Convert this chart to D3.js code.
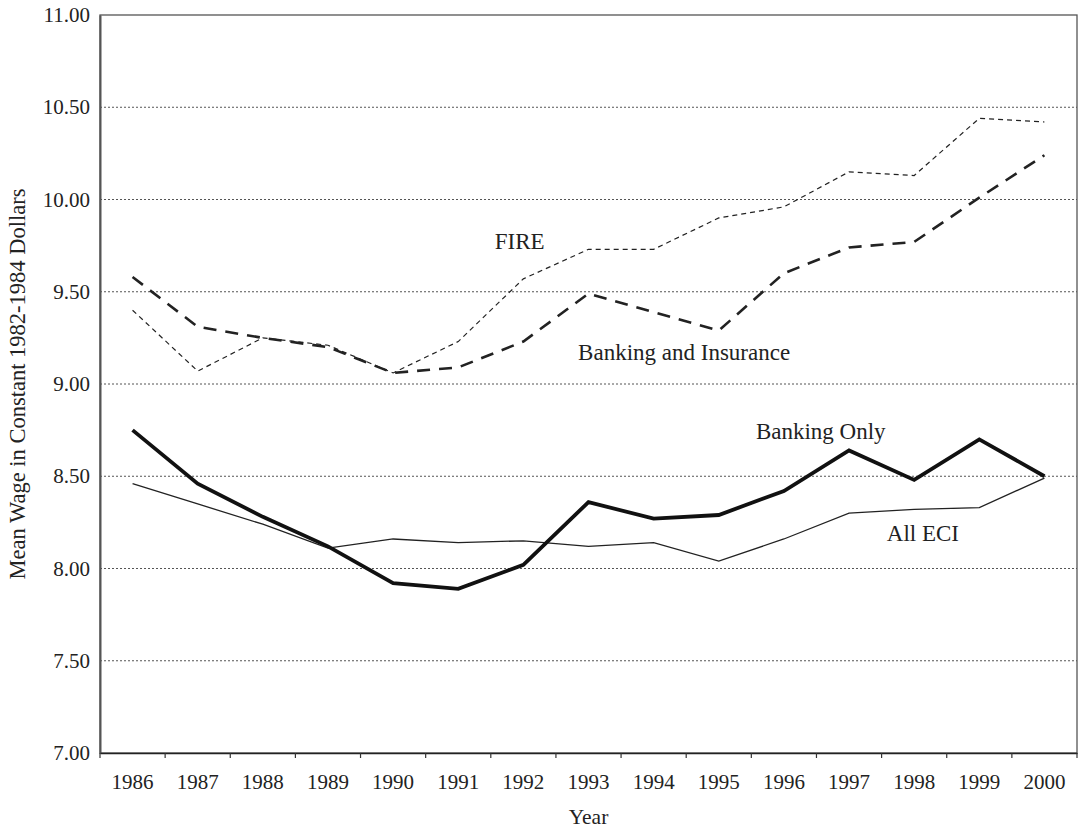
<html>
<head>
<meta charset="utf-8">
<script src="https://cdn.jsdelivr.net/npm/d3@7"></script>
<style>
  body { margin: 0; background: #fff; overflow: hidden; }
  svg { display: block; }
  text { font-family: "Liberation Serif", "Times New Roman", serif; fill: #222; }
</style>
</head>
<body>
<svg width="1081" height="829" id="mainsvg"></svg>
<script>
// data
const years = ['1986','1987','1988','1989','1990','1991','1992','1993','1994','1995','1996','1997','1998','1999','2000'];
const fire = [9.40, 9.07, 9.25, 9.21, 9.06, 9.23, 9.57, 9.73, 9.73, 9.90, 9.96, 10.15, 10.13, 10.44, 10.42];
const bankIns = [9.58, 9.31, 9.25, 9.20, 9.06, 9.09, 9.23, 9.49, 9.39, 9.29, 9.60, 9.74, 9.77, 10.01, 10.24];
const bankOnly = [8.75, 8.46, 8.28, 8.12, 7.92, 7.89, 8.02, 8.36, 8.27, 8.29, 8.42, 8.64, 8.48, 8.70, 8.50];
const allEci = [8.46, 8.35, 8.24, 8.11, 8.16, 8.14, 8.15, 8.12, 8.14, 8.04, 8.16, 8.30, 8.32, 8.33, 8.49];
const yTicks = [7.0, 7.5, 8.0, 8.5, 9.0, 9.5, 10.0, 10.5, 11.0];

const svg = d3.select('#mainsvg');
const margin = {top: 15, right: 4, bottom: 76, left: 100};
const innerWidth = 1081 - margin.left - margin.right;
const innerHeight = 829 - margin.top - margin.bottom;
const g = svg.append('g').attr('transform', `translate(${margin.left}, ${margin.top})`);

const xScale = d3.scaleBand().domain(years).range([0, innerWidth]);
const yScale = d3.scaleLinear().domain([7, 11]).range([innerHeight, 0]);
const cx = d => xScale(d) + xScale.bandwidth() / 2;

// dotted gridlines
g.selectAll('.grid').data(yTicks.filter(v => v > 7 && v < 11)).join('line')
  .attr('x1', 0).attr('x2', innerWidth)
  .attr('y1', d => yScale(d)).attr('y2', d => yScale(d))
  .attr('stroke', '#555').attr('stroke-width', 1).attr('stroke-dasharray', '2,2');

// frame
g.append('rect').attr('width', innerWidth).attr('height', innerHeight)
  .attr('fill', 'none').attr('stroke', '#555').attr('stroke-width', 1.3);

// y axis
const yAxis = g.append('g').call(d3.axisLeft(yScale).tickValues(yTicks).tickFormat(d3.format('.2f')).tickSize(0).tickPadding(10));
yAxis.select('.domain').attr('stroke', '#555').attr('stroke-width', 2);
yAxis.selectAll('text').attr('font-size', 21).style('font-family', '"Liberation Serif", serif').attr('fill', '#222');

// x axis
const xAxis = g.append('g').attr('transform', `translate(0, ${innerHeight})`)
  .call(d3.axisBottom(xScale).tickSize(0).tickPadding(21));
xAxis.select('.domain').attr('stroke', '#222').attr('stroke-width', 1.6);
xAxis.selectAll('text').attr('font-size', 21).style('font-family', '"Liberation Serif", serif').attr('fill', '#222');
g.append('g').selectAll('line').data(d3.range(years.length + 1)).join('line')
  .attr('x1', i => i * xScale.step()).attr('x2', i => i * xScale.step())
  .attr('y1', innerHeight).attr('y2', innerHeight + 5)
  .attr('stroke', '#333').attr('stroke-width', 1.2);

// lines
const line = d3.line().x((d, i) => cx(years[i])).y(d => yScale(d));
const series = [
  {vals: fire, w: 1.2, dash: '5,4', color: '#222'},
  {vals: bankIns, w: 2.6, dash: '13,9', color: '#222'},
  {vals: allEci, w: 1.3, dash: null, color: '#222'},
  {vals: bankOnly, w: 3.8, dash: null, color: '#111'}
];
series.forEach(s => {
  g.append('path').datum(s.vals).attr('d', line)
    .attr('fill', 'none').attr('stroke', s.color).attr('stroke-width', s.w)
    .attr('stroke-dasharray', s.dash).attr('stroke-linejoin', 'miter');
});

// series labels (x in year-index units, left edge; y at text middle)
const labels = [
  {t: 'FIRE', x: 5.56, y: 9.778},
  {t: 'Banking and Insurance', x: 6.84, y: 9.174},
  {t: 'Banking Only', x: 9.57, y: 8.746},
  {t: 'All ECI', x: 11.58, y: 8.194}
];
g.selectAll('.lab').data(labels).join('text')
  .attr('x', d => (d.x + 0.5) * xScale.step())
  .attr('y', d => yScale(d.y)).attr('dy', '0.35em')
  .attr('text-anchor', 'start').attr('font-size', 23).text(d => d.t);

// axis titles
svg.append('text').attr('x', margin.left + innerWidth / 2).attr('y', 824)
  .attr('text-anchor', 'middle').attr('font-size', 21.5).text('Year');
svg.append('text').attr('transform', `translate(25, ${margin.top + innerHeight / 2}) rotate(-90)`)
  .attr('text-anchor', 'middle').attr('font-size', 22.5).text('Mean Wage in Constant 1982-1984 Dollars');
</script>
</body>
</html>
